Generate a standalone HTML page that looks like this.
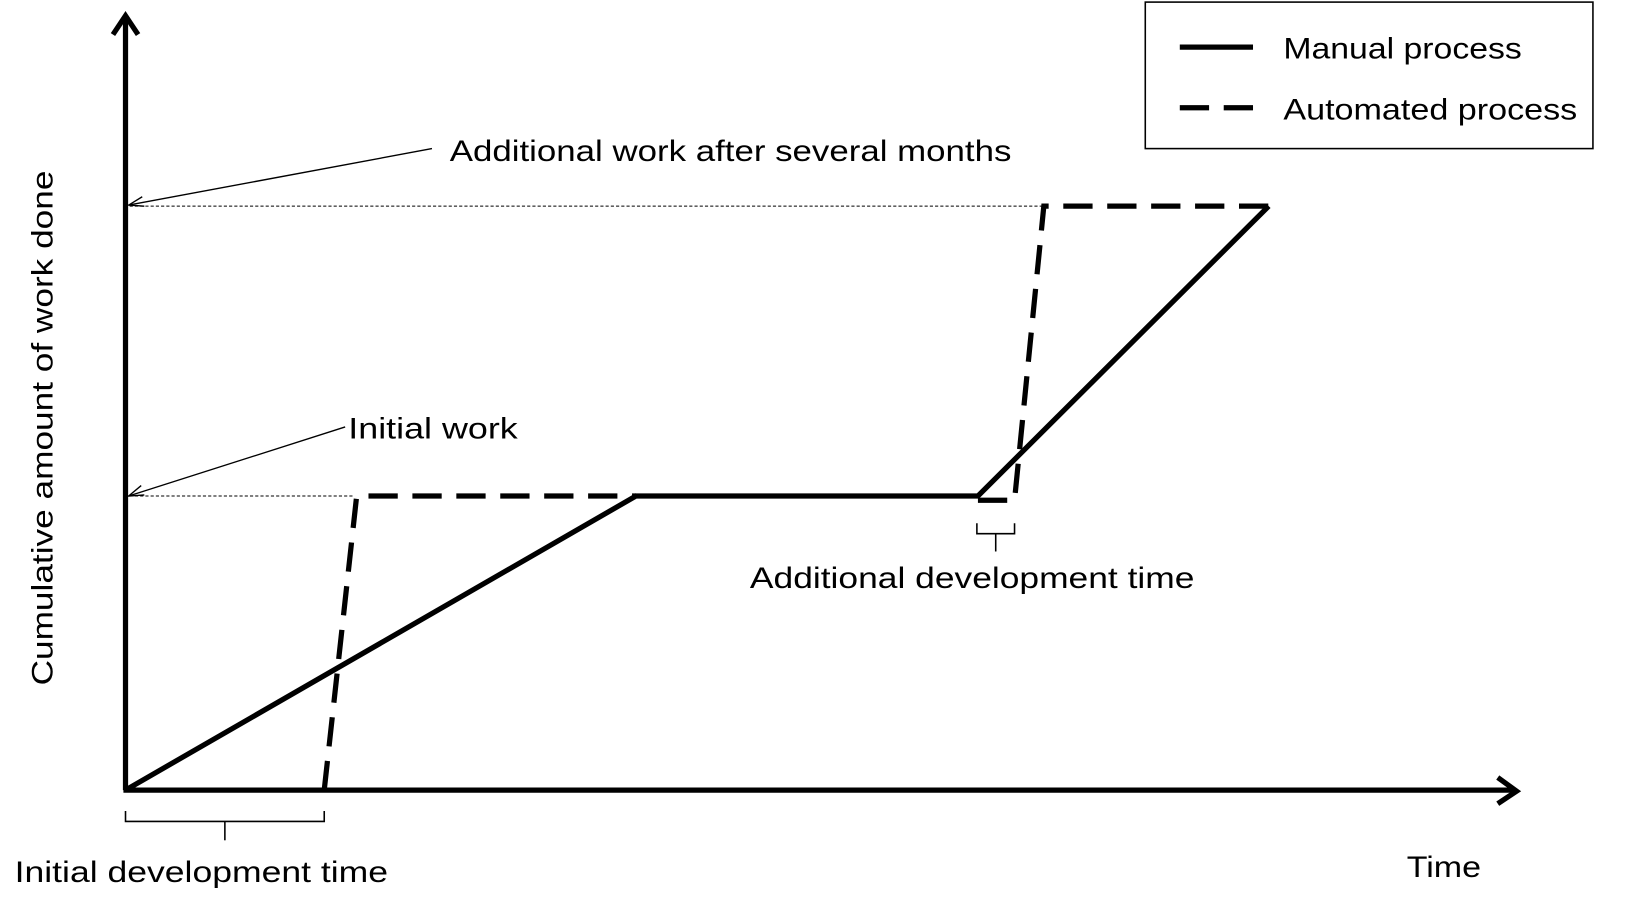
<!DOCTYPE html>
<html><head><style>html,body{margin:0;padding:0;background:#fff}svg{display:block}</style></head>
<body>
<svg width="1640" height="901" viewBox="0 0 1568 861" preserveAspectRatio="none" xmlns="http://www.w3.org/2000/svg" font-family="'Liberation Sans', sans-serif" font-size="28" fill="#000">
<g stroke="#000" fill="none" stroke-linecap="butt">
  <!-- axes -->
  <line x1="120" y1="755" x2="120" y2="16" stroke-width="5"/>
  <polyline points="108,33 120,15 132,33" stroke-width="5" stroke-linejoin="miter"/>
  <line x1="118" y1="755" x2="1448" y2="755" stroke-width="5"/>
  <polyline points="1432,743 1450,756 1432,768" stroke-width="5"/>
  <!-- manual -->
  <polyline points="120,755 608,474 935,474 1213,197" stroke-width="5" stroke-linejoin="miter"/>
  <!-- automated -->
  <polyline points="310,755 341,474 608,474" stroke-width="5" stroke-dasharray="28,14"/>
  <polyline points="935,478 970,478 998,197 1213,197" stroke-width="5" stroke-dasharray="28,14"/>
  <!-- dotted guides -->
  <line x1="124" y1="474" x2="338" y2="474" stroke-width="1" stroke-dasharray="3,2"/>
  <line x1="124" y1="197" x2="996" y2="197" stroke-width="1" stroke-dasharray="3,2"/>
  <!-- annotation arrows -->
  <line x1="413" y1="142" x2="123" y2="196" stroke-width="1.3"/>
  <polyline points="136,188 123,196 138,197" stroke-width="1.3"/>
  <line x1="330" y1="408" x2="123" y2="474" stroke-width="1.3"/>
  <polyline points="135,464 123,474 138,473" stroke-width="1.3"/>
  <!-- brackets -->
  <polyline points="120,775 120,785 310,785 310,775" stroke-width="1.5"/>
  <line x1="215" y1="785" x2="215" y2="803" stroke-width="1.5"/>
  <polyline points="934,500 934,510 970,510 970,500" stroke-width="1.5"/>
  <line x1="952" y1="510" x2="952" y2="527" stroke-width="1.5"/>
  <!-- legend -->
  <rect x="1095" y="2" width="428" height="140" stroke-width="1.5"/>
  <line x1="1128" y1="45" x2="1198" y2="45" stroke-width="5"/>
  <line x1="1128" y1="103" x2="1156" y2="103" stroke-width="5"/>
  <line x1="1170" y1="103" x2="1198" y2="103" stroke-width="5"/>
</g>
<text x="1227" y="56" textLength="228" lengthAdjust="spacingAndGlyphs">Manual process</text>
<text x="1227" y="114" textLength="281" lengthAdjust="spacingAndGlyphs">Automated process</text>
<text x="430" y="154" textLength="537" lengthAdjust="spacingAndGlyphs">Additional work after several months</text>
<text x="333" y="419" textLength="162" lengthAdjust="spacingAndGlyphs">Initial work</text>
<text x="717" y="562" textLength="425" lengthAdjust="spacingAndGlyphs">Additional development time</text>
<text x="14" y="843" textLength="357" lengthAdjust="spacingAndGlyphs">Initial development time</text>
<text x="1345" y="838" textLength="71" lengthAdjust="spacingAndGlyphs">Time</text>
<text transform="translate(50,655) rotate(-90)" x="0" y="0" textLength="492" lengthAdjust="spacingAndGlyphs">Cumulative amount  of work done</text>
</svg>
</body></html>
